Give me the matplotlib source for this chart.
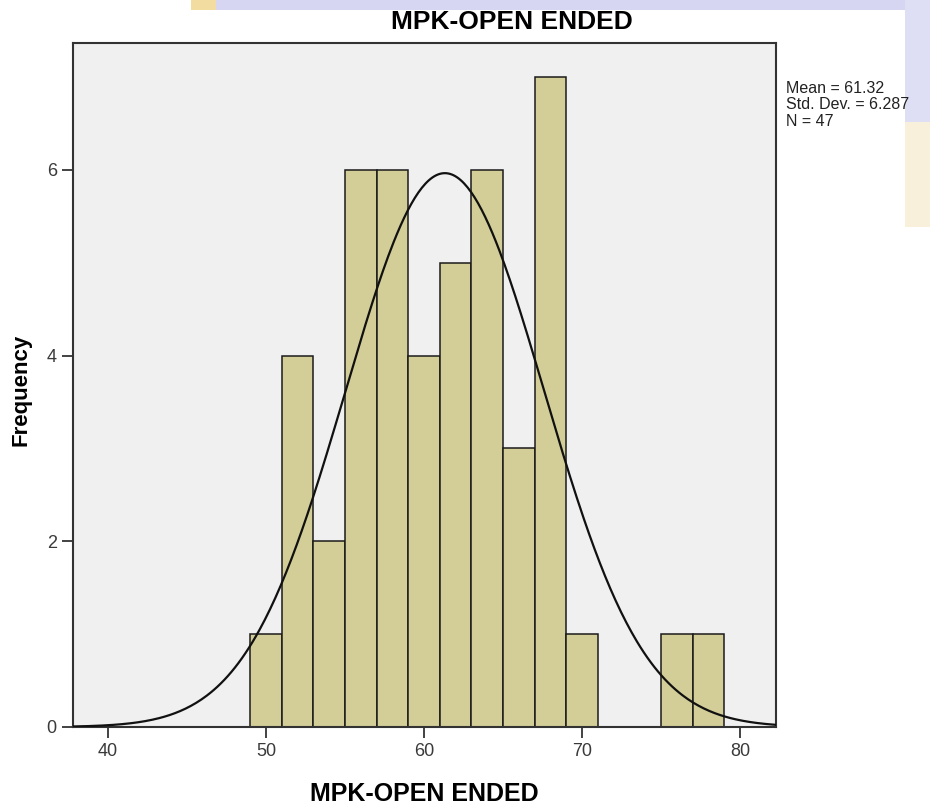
import numpy as np
import matplotlib.pyplot as plt
from matplotlib.patches import Rectangle

# Histogram of MPK open-ended scores (bins of width 2)
bin_edges = [49, 51, 53, 55, 57, 59, 61, 63, 65, 67, 69, 71, 73, 75, 77, 79]
counts = [1, 4, 2, 6, 6, 4, 5, 6, 3, 7, 1, 0, 0, 1, 1]
mean_val = 61.32
sd_val = 6.287
n_val = 47
x_ticks = [40, 50, 60, 70, 80]
y_ticks = [0, 2, 4, 6]

plt.rcParams['font.family'] = ['Liberation Sans', 'DejaVu Sans']

fig = plt.figure(figsize=(9.3, 8.1), dpi=100)

# faint watermark remnants along the top and right edges
fig.patches.append(Rectangle((0.205, 0.988), 0.795, 0.012, transform=fig.transFigure,
                             facecolor='#d6d6f2', edgecolor='none', zorder=0))
fig.patches.append(Rectangle((0.205, 0.988), 0.027, 0.012, transform=fig.transFigure,
                             facecolor='#f3dca0', edgecolor='none', zorder=0))
fig.patches.append(Rectangle((0.973, 0.85), 0.027, 0.15, transform=fig.transFigure,
                             facecolor='#dedef4', edgecolor='none', zorder=0))
fig.patches.append(Rectangle((0.973, 0.72), 0.027, 0.13, transform=fig.transFigure,
                             facecolor='#f8f0da', edgecolor='none', zorder=0))

ax = fig.add_axes([0.0782, 0.1025, 0.7563, 0.8448])
ax.set_facecolor('#f0f0f0')

widths = np.diff(bin_edges)
for left, w, c in zip(bin_edges[:-1], widths, counts):
    if c > 0:
        ax.bar(left, c, width=w, align='edge', color='#d3ce97',
               edgecolor='#1a1a1a', linewidth=1.1, zorder=2)

# normal curve scaled to counts
bw = widths[0]
xs = np.linspace(37.77, 82.28, 400)
ys = n_val * bw / (sd_val * np.sqrt(2 * np.pi)) * np.exp(-0.5 * ((xs - mean_val) / sd_val) ** 2)
ax.plot(xs, ys, color='#111111', linewidth=1.6, zorder=3)

ax.set_xlim(37.77, 82.28)
ax.set_ylim(0, 7.37)
ax.set_xticks(x_ticks)
ax.set_yticks(y_ticks)
ax.tick_params(axis='both', direction='out', length=8, width=1.2,
               colors='#222222', labelcolor='#3a3a3a', labelsize=13)
for s in ax.spines.values():
    s.set_color('#333333')
    s.set_linewidth(1.5)

ax.set_xlabel('MPK-OPEN ENDED', fontsize=18, fontweight='bold', labelpad=16)

fig.text(21 / 930, 1 - 390 / 810, 'Frequency', fontsize=16, fontweight='bold',
         rotation=90, ha='center', va='center')

fig.text(512 / 930, 1 - 22 / 810, 'MPK-OPEN ENDED', fontsize=19, fontweight='bold',
         ha='center', va='center')

fig.text(786 / 930, 1 - 81 / 810,
         f'Mean = {mean_val:.2f}\nStd. Dev. = {sd_val:.3f}\nN = {n_val}',
         fontsize=11.5, ha='left', va='top', linespacing=1.12, color='#222222')

fig.savefig('out.png', dpi=100)
